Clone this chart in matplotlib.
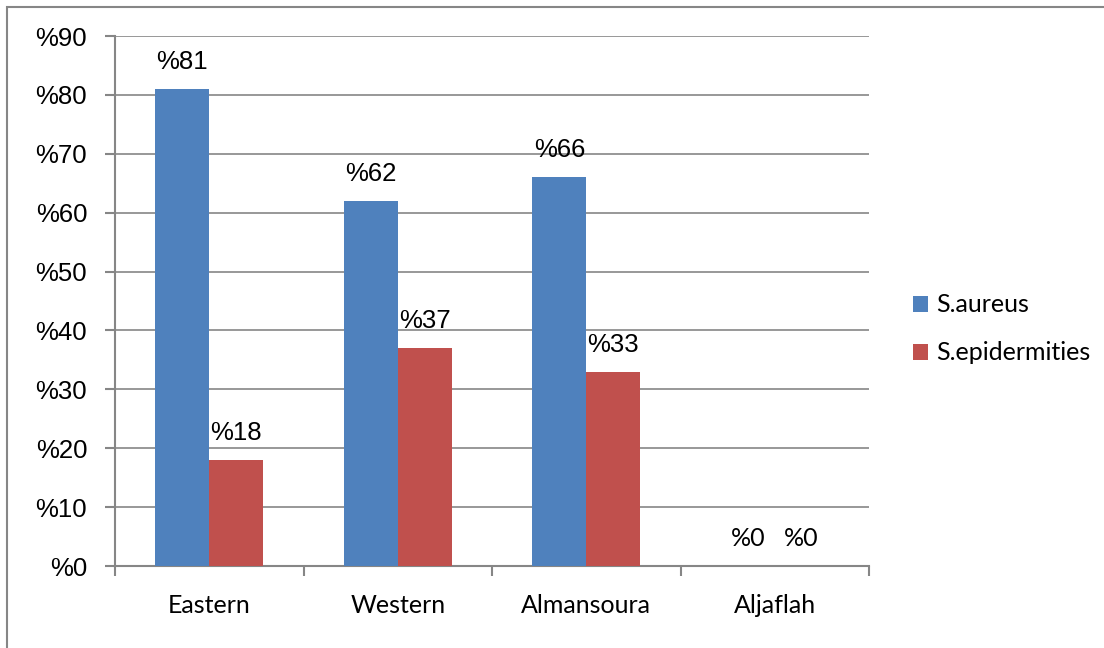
import matplotlib.pyplot as plt
import numpy as np
from matplotlib.patches import Rectangle

# data
regions = ['Eastern', 'Western', 'Almansoura', 'Aljaflah']
aureus = [81, 62, 66, 0]
epidermities = [18, 37, 33, 0]
yticks = [0, 10, 20, 30, 40, 50, 60, 70, 80, 90]

blue = '#4F81BD'
red = '#C0504D'
grey = '#868686'

fig = plt.figure(figsize=(11.04, 6.48), dpi=100)
# outer chart frame
fig.patches.append(Rectangle((7 / 1104, -0.1), 1.2, (648 - 7) / 648 + 0.1,
                             transform=fig.transFigure, fill=False,
                             edgecolor=grey, linewidth=1.5))

ax = fig.add_axes([115 / 1104, (648 - 566) / 648, 754 / 1104, 530 / 648])

w = 1 / 3.5
x = np.arange(len(regions)) + 0.5
ax.bar(x - w / 2, aureus, w, color=blue, label='S.aureus', zorder=3)
ax.bar(x + w / 2, epidermities, w, color=red, label='S.epidermities', zorder=3)

arial = 'Liberation Sans'
cal = 'Lato'
for xi, a, e in zip(x, aureus, epidermities):
    for xx, v in ((xi - w / 2, a), (xi + w / 2, e)):
        fam = cal if v == 0 else arial
        ax.annotate('%' + str(v), (xx, v), xytext=(0, 27),
                    textcoords='offset pixels', ha='center', va='center',
                    fontsize=18.5 if v else 18, family=fam)

ax.set_xlim(0, len(regions))
ax.set_ylim(0, 90)
ax.set_yticks(yticks)
ax.set_yticklabels(['%' + str(t) for t in yticks], family=arial, fontsize=18.5)
ax.yaxis.grid(True, color=grey, linewidth=1.2, zorder=0)
ax.set_xticks(np.arange(len(regions) + 1))
ax.set_xticklabels([])
ax.set_xticks(x, minor=True)
ax.set_xticklabels(regions, minor=True, family=cal, fontsize=18)
ax.tick_params(axis='x', which='minor', length=0, pad=20)
ax.tick_params(axis='x', which='major', length=7, width=1.5, color=grey, direction='out')
ax.tick_params(axis='y', length=7, width=1.5, color=grey, pad=13)

for s in ('top', 'right'):
    ax.spines[s].set_visible(False)
for s in ('left', 'bottom'):
    ax.spines[s].set_color(grey)
    ax.spines[s].set_linewidth(1.5)

fig.legend(loc='center left', bbox_to_anchor=(890 / 1104, 1 - 329 / 648),
           frameon=False, prop={'family': cal, 'size': 18},
           handlelength=0.6, handleheight=0.6, handletextpad=0.35,
           labelspacing=1.0)

fig.savefig('out.png', dpi=100)
